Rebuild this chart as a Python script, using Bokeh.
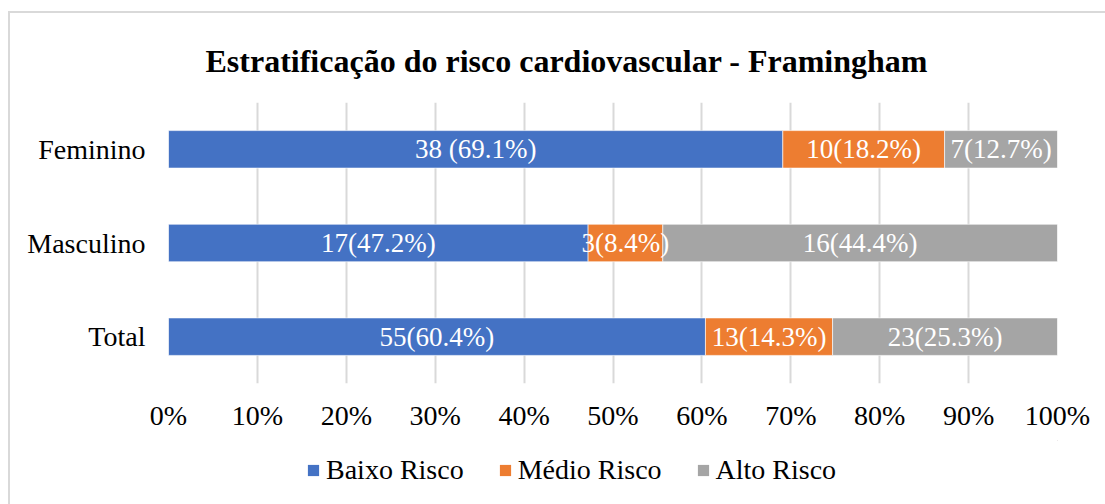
from bokeh.plotting import figure
from bokeh.layouts import column
from bokeh.models import ColumnDataSource, FactorRange, Range1d, LabelSet, Legend, LegendItem, PrintfTickFormatter, FixedTicker, Title
from bokeh.embed import file_html
from bokeh.resources import INLINE

categories = ["Feminino", "Masculino", "Total"]
series = ["Baixo Risco", "Médio Risco", "Alto Risco"]
baixo_pct = [69.1, 47.2, 60.4]
medio_pct = [18.2, 8.4, 14.3]
alto_pct = [12.7, 44.4, 25.3]
baixo_lbl = ["38 (69.1%)", "17(47.2%)", "55(60.4%)"]
medio_lbl = ["10(18.2%)", "3(8.4%)", "13(14.3%)"]
alto_lbl = ["7(12.7%)", "16(44.4%)", "23(25.3%)"]
ticks = [0, 10, 20, 30, 40, 50, 60, 70, 80, 90, 100]
colors = ["#4472C4", "#ED7D31", "#A5A5A5"]
FONT = "Liberation Serif"
FS = "28px"

src = ColumnDataSource(dict(
    cat=categories,
    b0=[0] * 3,
    b1=baixo_pct,
    m1=[b + m for b, m in zip(baixo_pct, medio_pct)],
    a1=[b + m + a for b, m, a in zip(baixo_pct, medio_pct, alto_pct)],
    bc=[b / 2 for b in baixo_pct],
    mc=[b + m / 2 for b, m in zip(baixo_pct, medio_pct)],
    ac=[b + m + a / 2 for b, m, a in zip(baixo_pct, medio_pct, alto_pct)],
    bl=baixo_lbl, ml=medio_lbl, al=alto_lbl,
))

p = figure(width=1095, height=427, output_backend="svg", toolbar_location=None,
           y_range=FactorRange(*list(reversed(categories)), range_padding=0),
           x_range=Range1d(0, 100),
           min_border_left=158, min_border_right=48, min_border_top=89, min_border_bottom=57)
p.outline_line_color = None

bar_kw = dict(height=0.4, source=src, line_color="white", line_alpha=0.6, line_width=1)
p.hbar(y="cat", left="b0", right="b1", fill_color=colors[0], **bar_kw)
p.hbar(y="cat", left="b1", right="m1", fill_color=colors[1], **bar_kw)
p.hbar(y="cat", left="m1", right="a1", fill_color=colors[2], **bar_kw)

for xcol, tcol in (("bc", "bl"), ("mc", "ml"), ("ac", "al")):
    p.add_layout(LabelSet(x=xcol, y="cat", text=tcol, source=src, text_color="white",
                          text_font=FONT, text_font_size="27px", text_align="center",
                          text_baseline="middle"))

p.xaxis.ticker = FixedTicker(ticks=ticks)
p.xaxis.formatter = PrintfTickFormatter(format="%d%%")
for ax in (p.xaxis, p.yaxis):
    ax.axis_line_color = None
    ax.major_tick_line_color = None
    ax.minor_tick_line_color = None
    ax.major_label_text_font = FONT
    ax.major_label_text_font_size = FS
    ax.major_label_text_color = "#000000"
p.xaxis.major_label_standoff = 10
p.yaxis.major_label_standoff = 17
p.xgrid.grid_line_color = "#d9d9d9"
p.xgrid.grid_line_width = 2
p.ygrid.grid_line_color = None

p.title = Title(text="Estratificação do risco cardiovascular - Framingham", align="left", offset=37,
                text_font=FONT, text_font_size="32px", text_font_style="bold", text_color="#000000",
                standoff=47)

# legend strip (its renderers hold one bar each, placed outside the visible range)
lg = figure(width=1095, height=64, output_backend="svg", toolbar_location=None,
            x_range=Range1d(0, 1), y_range=Range1d(0, 1),
            x_axis_location=None, y_axis_location=None,
            min_border_left=158, min_border_right=48, min_border_top=0, min_border_bottom=0)
lg.outline_line_color = None
lg.grid.grid_line_color = None
hidden = ColumnDataSource(dict(y=[5], l=[5], r=[6]))
rs = [lg.hbar(y="y", left="l", right="r", height=0.4, source=hidden, fill_color=c, line_color=None)
      for c in colors]
legend = Legend(items=[LegendItem(label=s, renderers=[r]) for s, r in zip(series, rs)],
                orientation="horizontal", location=(138, 18), padding=0, margin=0,
                glyph_width=14, glyph_height=14, label_standoff=6, spacing=34,
                label_text_font=FONT, label_text_font_size=FS, label_text_color="#000000",
                border_line_color=None, background_fill_alpha=0)
lg.add_layout(legend)

layout = column(p, lg, spacing=0,
                styles={"margin-left": "8px", "margin-top": "11px",
                        "border-left": "2px solid #d9d9d9", "border-top": "2px solid #d9d9d9"})

open("out.html", "w").write(file_html(layout, INLINE))
